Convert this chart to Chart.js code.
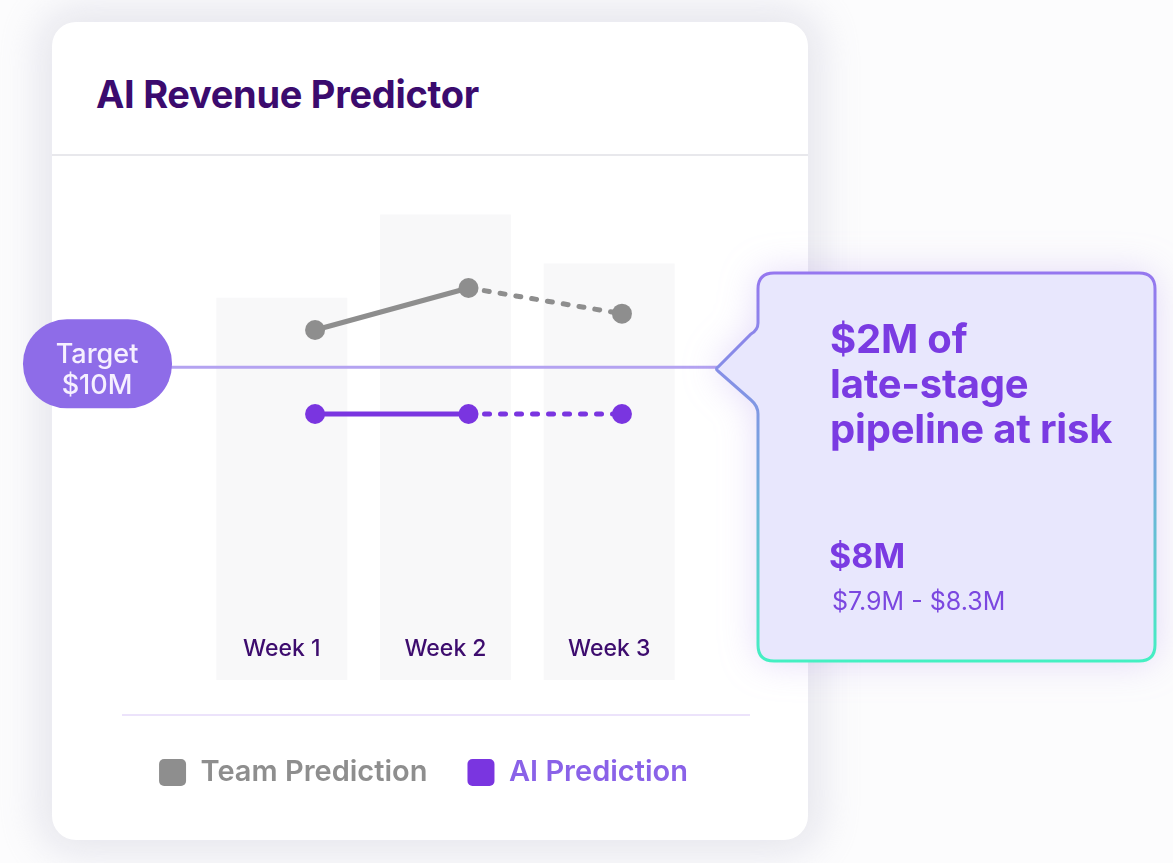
<!DOCTYPE html>
<html>
<head>
<meta charset="utf-8">
<script src="https://cdn.jsdelivr.net/npm/chart.js@4.4.1/dist/chart.umd.min.js"></script>
<style>
  html, body { margin: 0; padding: 0; }
  body {
    width: 1173px; height: 863px; overflow: hidden; position: relative;
    background: #fcfcfd; font-family: Inter, "Noto Sans", sans-serif;
  }
  .card {
    position: absolute; left: 52px; top: 22px; width: 756px; height: 818px;
    background: #fff; border-radius: 24px;
    box-shadow: 0 0 38px 14px rgba(205, 205, 220, 0.45);
  }
  .card h1 {
    position: absolute; left: 44px; top: 53px; margin: 0;
    font-size: 38px; line-height: 38px; font-weight: 700; letter-spacing: -0.3px;
    color: #3b0b6e;
  }
  .card .divider {
    position: absolute; left: 0; right: 0; top: 132px; height: 2px; background: #e8e8ec;
  }
  .card .sep {
    position: absolute; left: 70px; width: 628px; top: 692px; height: 2px; background: #ece3fb;
  }
  #chart { position: absolute; left: 0; top: 0; z-index: 1; }
  .callout { position: absolute; left: 700px; top: 260px; width: 473px; height: 420px; z-index: 2; }
  .callout svg { position: absolute; left: 0; top: 0; filter: drop-shadow(0 0 18px rgba(160, 130, 235, 0.28)); }
  .callout .risk {
    position: absolute; left: 130px; top: 56px; margin: 0; white-space: nowrap;
    font-size: 40px; line-height: 45px; font-weight: 700; color: #7a3be2; letter-spacing: -0.2px;
  }
  .callout .value {
    position: absolute; left: 129px; top: 279px;
    font-size: 34px; line-height: 34px; font-weight: 700; color: #7a3be2;
  }
  .callout .range {
    position: absolute; left: 132px; top: 329px;
    font-size: 25px; line-height: 25px; font-weight: 400; color: #7b47e0;
  }
</style>
</head>
<body>
<div class="card">
  <h1>AI Revenue Predictor</h1>
  <div class="divider"></div>
  <div class="sep"></div>
</div>
<canvas id="chart" width="1173" height="863"></canvas>
<div class="callout">
  <svg width="473" height="420" viewBox="0 0 473 420">
    <defs>
      <linearGradient id="edge" gradientUnits="userSpaceOnUse" x1="0" y1="13" x2="0" y2="401">
        <stop offset="0" stop-color="#9577ef"/>
        <stop offset="0.5" stop-color="#76a6de"/>
        <stop offset="1" stop-color="#44f0c2"/>
      </linearGradient>
    </defs>
    <path d="M 74 13 H 439 Q 455 13 455 29 V 385 Q 455 401 439 401 H 74 Q 58 401 58 385 V 154 Q 58 146 51 140 L 18 111 Q 15 109 18 107 L 51 74 Q 58 70 58 63 V 29 Q 58 13 74 13 Z"
          fill="#e8e7fd" stroke="url(#edge)" stroke-width="3"/>
  </svg>
  <p class="risk">$2M of<br>late-stage<br>pipeline at risk</p>
  <div class="value">$8M</div>
  <div class="range">$7.9M - $8.3M</div>
</div>

<script>
const weeks = ['Week 1', 'Week 2', 'Week 3'];
const columnHeights = [78, 95, 85];
const teamPrediction = [11.6, 13.4, 12.3];
const aiPrediction = [8, 8, 8];
const targetValue = 10;
const forecastFrom = 1; // segments after week 2 are forecast (dashed)

const gray = '#8e8e8e';
const purple = '#7a35e0';

function asPoints(values) {
    return values.map((v, i) => ({ x: i + 1, y: v }));
}

// target line with the pill label, placed on the y scale
const targetLine = {
    id: 'targetLine',
    afterDatasetsDraw(chart) {
        const ctx = chart.ctx;
        const y = chart.scales.y.getPixelForValue(targetValue);
        ctx.save();
        ctx.strokeStyle = '#b4a3f1';
        ctx.lineWidth = 3;
        ctx.beginPath();
        ctx.moveTo(150, y);
        ctx.lineTo(717, y);
        ctx.stroke();

        ctx.fillStyle = '#8e6ce8';
        ctx.beginPath();
        ctx.roundRect(23, y - 48, 149, 89, 44);
        ctx.fill();

        ctx.fillStyle = '#f6f0ff';
        ctx.font = '500 27px Inter';
        ctx.textAlign = 'center';
        ctx.fillText('Target', 97, y - 12);
        ctx.fillText('$' + targetValue + 'M', 97, y + 19);
        ctx.restore();
    }
};

// week names sit inside the columns, near their foot
const weekLabels = {
    id: 'weekLabels',
    afterDatasetsDraw(chart) {
        const ctx = chart.ctx;
        const x = chart.scales.x;
        ctx.save();
        ctx.fillStyle = '#3d0c6e';
        ctx.font = '500 23px Inter';
        ctx.textAlign = 'center';
        ctx.textBaseline = 'middle';
        x.getLabels().forEach((label, i) => {
            ctx.fillText(label, x.getPixelForTick(i), chart.chartArea.bottom - 31);
        });
        ctx.restore();
    }
};

const datasets = [
    {
        type: 'bar',
        label: 'columns',
        data: columnHeights,
        xAxisID: 'x',
        yAxisID: 'yBar',
        backgroundColor: '#f8f8f9',
        barPercentage: 0.8,
        categoryPercentage: 1,
        grouped: false,
        order: 3
    },
    {
        type: 'line',
        label: 'Team Prediction',
        data: asPoints(teamPrediction),
        xAxisID: 'x2',
        yAxisID: 'y',
        borderColor: gray,
        borderWidth: 5,
        borderCapStyle: 'round',
        pointRadius: 10,
        pointBackgroundColor: gray,
        pointBorderWidth: 0,
        segment: {
            borderDash: c => c.p0DataIndex >= forecastFrom ? [5, 11] : undefined
        },
        clip: false,
        order: 1
    },
    {
        type: 'line',
        label: 'AI Prediction',
        data: asPoints(aiPrediction),
        xAxisID: 'x2',
        yAxisID: 'y',
        borderColor: purple,
        borderWidth: 5,
        borderCapStyle: 'round',
        pointRadius: 10,
        pointBackgroundColor: purple,
        pointBorderWidth: 0,
        segment: {
            borderDash: c => c.p0DataIndex >= forecastFrom ? [5, 11] : undefined
        },
        clip: false,
        order: 0
    }
];

const legendColors = { 'Team Prediction': [gray, '#8e8e8e'], 'AI Prediction': [purple, '#8a62e8'] };

new Chart(document.getElementById('chart'), {
    type: 'line',
    data: { labels: weeks, datasets: datasets },
    options: {
        responsive: false,
        animation: false,
        layout: { padding: { left: 100, right: 426, top: 190, bottom: 66 } },
        scales: {
            x: {
                type: 'category',
                offset: true,
                stacked: true,
                grid: { display: false },
                border: { display: false },
                ticks: { display: false },
                afterFit: s => { s.height = 38; }
            },
            x2: { type: 'linear', display: false, offset: false, min: 0.25, max: 3.45 },
            y: {
                position: 'left',
                min: -3.4,
                max: 17.6,
                grid: { display: false },
                border: { display: false },
                ticks: { display: false },
                afterFit: s => { s.width = 100; }
            },
            yBar: {
                position: 'right',
                min: 0,
                max: 100,
                grid: { display: false },
                border: { display: false },
                ticks: { display: false },
                afterFit: s => { s.width = 56; }
            }
        },
        plugins: {
            tooltip: { enabled: false },
            legend: {
                position: 'bottom',
                align: 'center',
                labels: {
                    font: { family: 'Inter', size: 29, weight: 600 },
                    boxWidth: 27,
                    boxHeight: 27,
                    padding: 40,
                    useBorderRadius: true,
                    borderRadius: 5,
                    generateLabels: chart => chart.data.datasets
                        .map((ds, i) => ({ ds, i }))
                        .filter(o => o.ds.type === 'line')
                        .map(o => ({
                            text: o.ds.label,
                            fillStyle: legendColors[o.ds.label][0],
                            strokeStyle: legendColors[o.ds.label][0],
                            fontColor: legendColors[o.ds.label][1],
                            lineWidth: 0,
                            borderRadius: 5,
                            hidden: false,
                            datasetIndex: o.i
                        }))
                }
            }
        }
    },
    plugins: [targetLine, weekLabels]
});
</script>
</body>
</html>
